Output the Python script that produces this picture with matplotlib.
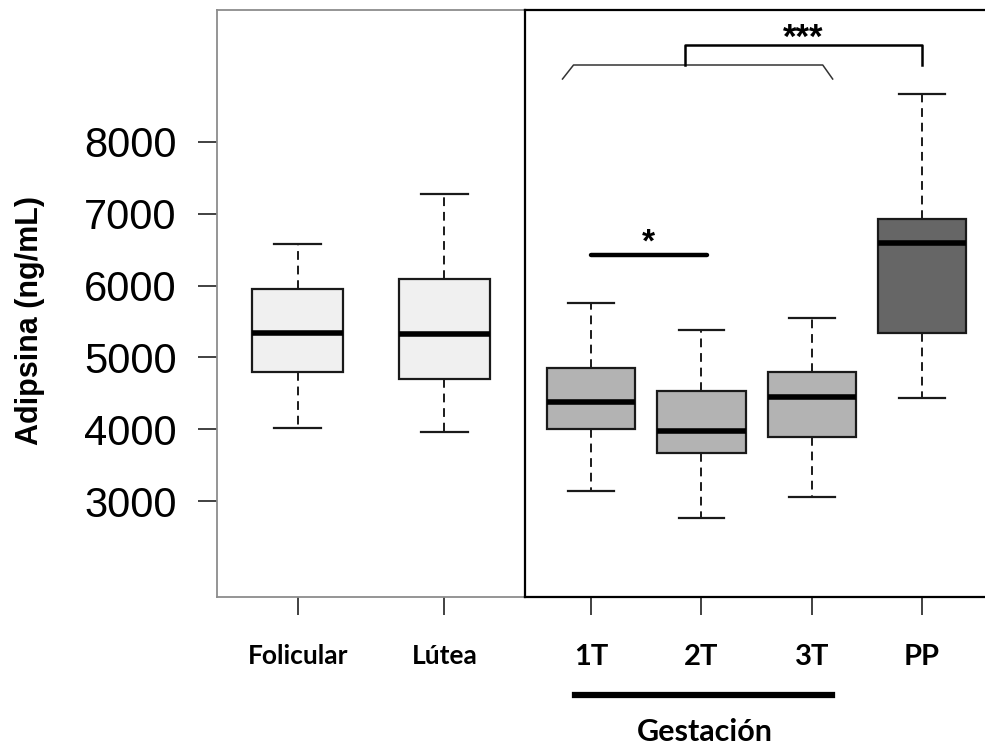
import matplotlib.pyplot as plt

plt.rcParams["font.family"] = ["Liberation Sans", "DejaVu Sans"]

# valores (ng/mL)
ciclo = ["Folicular", "Lútea"]
ciclo_q1 = [4797, 4699]
ciclo_med = [5340, 5326]
ciclo_q3 = [5953, 6092]
ciclo_lo = [4017, 3961]
ciclo_hi = [6579, 7276]

gest = ["1T", "2T", "3T", "PP"]
gest_q1 = [4003, 3669, 3891, 5340]
gest_med = [4379, 3975, 4448, 6593]
gest_q3 = [4852, 4532, 4797, 6928]
gest_lo = [3139, 2763, 3056, 4435]
gest_hi = [5758, 5382, 5549, 8669]

yticks = [3000, 4000, 5000, 6000, 7000, 8000]
label_font = ["Lato", "DejaVu Sans"]


def make_stats(q1, med, q3, lo, hi):
    stats = []
    for a, m, b, l, h in zip(q1, med, q3, lo, hi):
        stats.append({"q1": a, "med": m, "q3": b, "whislo": l, "whishi": h, "fliers": []})
    return stats


def draw_boxes(ax, stats, colors, width):
    bp = ax.bxp(
        stats,
        positions=range(1, len(stats) + 1),
        widths=width,
        capwidths=width * 0.52,
        patch_artist=True,
        showfliers=False,
        boxprops=dict(edgecolor="#1a1a1a", linewidth=1.6),
        medianprops=dict(color="black", linewidth=4.0, solid_capstyle="butt"),
        whiskerprops=dict(color="#1a1a1a", linewidth=1.4, linestyle=(0, (4.5, 3))),
        capprops=dict(color="#1a1a1a", linewidth=1.6),
    )
    for patch, c in zip(bp["boxes"], colors):
        patch.set_facecolor(c)
    return bp


fig = plt.figure(figsize=(9.85, 7.46), dpi=100)
ax1 = fig.add_axes([0.2203, 0.1997, 0.3127, 0.7869])
ax2 = fig.add_axes([0.533, 0.1997, 0.4702, 0.7869], sharey=ax1)

draw_boxes(ax1, make_stats(ciclo_q1, ciclo_med, ciclo_q3, ciclo_lo, ciclo_hi),
           ["#f0f0f0"] * 2, 0.62)
draw_boxes(ax2, make_stats(gest_q1, gest_med, gest_q3, gest_lo, gest_hi),
           ["#b3b3b3"] * 3 + ["#666666"], 0.8)

ax1.set_xlim(0.45, 2.55)
ax2.set_xlim(0.4, 4.6)
ax1.set_ylim(1663, 9838)

for sp in ax1.spines.values():
    sp.set_color("#8c8c8c")
    sp.set_linewidth(1.3)
for sp in ax2.spines.values():
    sp.set_color("black")
    sp.set_linewidth(1.6)
ax2.spines["right"].set_visible(False)

ax1.set_yticks(yticks)
ax1.set_yticklabels([str(t) for t in yticks], fontsize=30)
ax1.tick_params(axis="y", length=14, width=1.3, color="#333333", pad=15)
ax2.tick_params(axis="y", left=False, labelleft=False)

ax1.set_xticks([1, 2])
ax1.set_xticklabels(ciclo, fontsize=19, fontweight="bold", family=label_font)
ax2.set_xticks([1, 2, 3, 4])
ax2.set_xticklabels(gest, fontsize=21, fontweight="bold", family=label_font)
for ax in (ax1, ax2):
    ax.tick_params(axis="x", length=13, width=1.3, color="#333333", pad=21)

fig.text(0.03, 1 - 321 / 746, "Adipsina (ng/mL)", rotation=90, ha="center",
         va="center", fontsize=22, fontweight="bold")

# llave sobre 1T-3T y comparacion con PP
ax2.plot([0.74, 0.84, 3.1, 3.19], [8877, 9072, 9072, 8877], color="#333333", lw=1.1)
ax2.plot([1.85, 1.85, 4.0, 4.0], [9072, 9351, 9351, 9072], color="black", lw=1.8)
ax2.text(2.92, 9220, "***", ha="center", va="bottom", fontsize=25, fontweight="bold")

# 1T vs 2T
ax2.plot([1.0, 2.05], [6426, 6426], color="black", lw=3.2, solid_capstyle="round")
ax2.text(1.52, 6370, "*", ha="center", va="bottom", fontsize=24, fontweight="bold")

# barra de gestacion
fig.add_artist(plt.Line2D([575 / 985, 832 / 985], [1 - 695 / 746] * 2,
                          color="black", lw=4.5))
fig.text(705 / 985, 1 - 732 / 746, "Gestación", ha="center", va="center",
         fontsize=22, fontweight="bold", family=label_font)

fig.savefig("out.png", dpi=100)
